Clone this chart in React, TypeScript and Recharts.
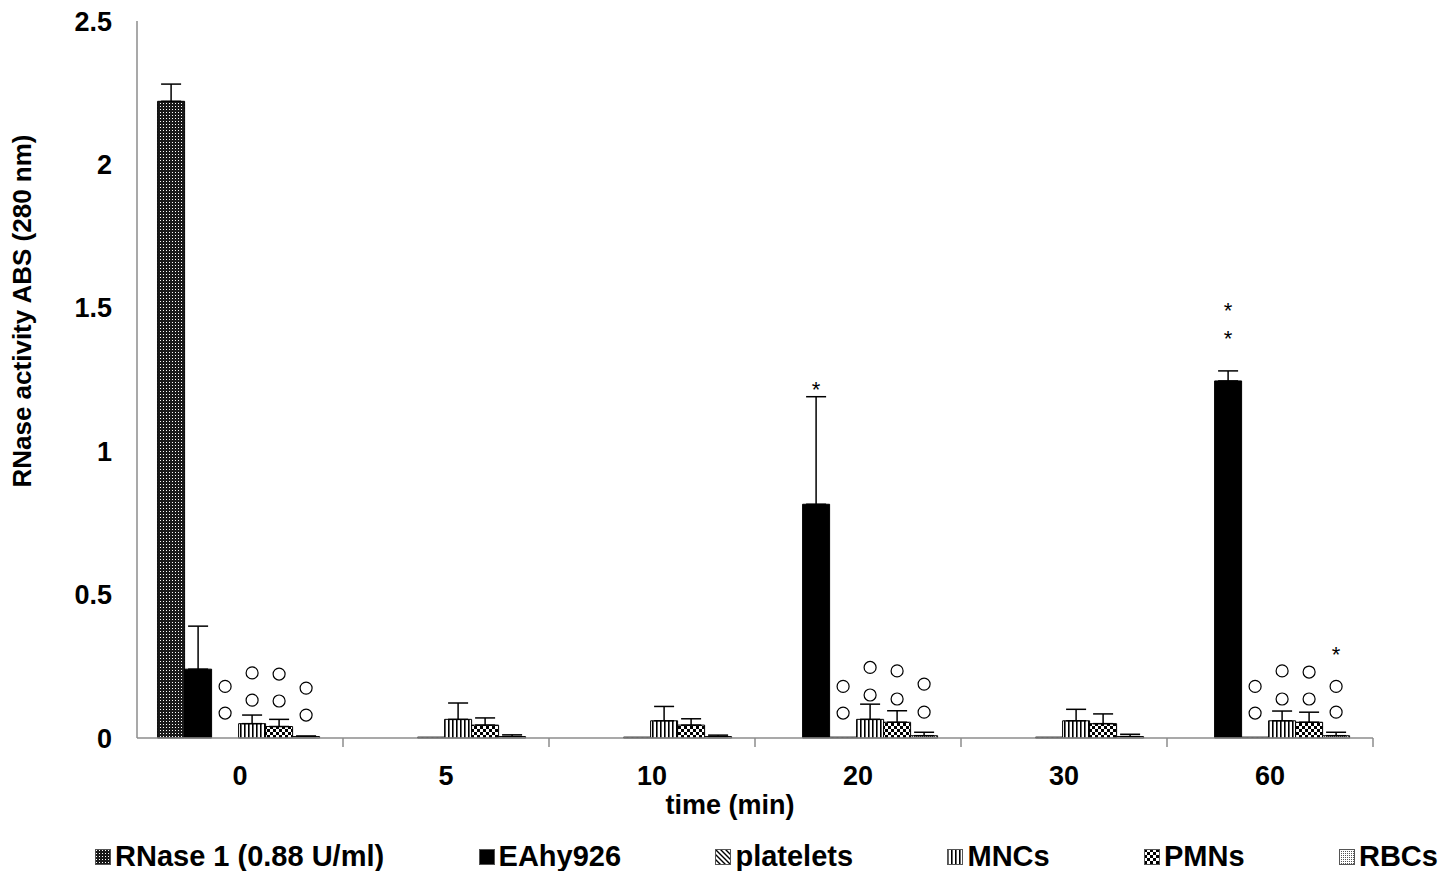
import React from 'react'
import { BarChart, Bar, XAxis, YAxis, ErrorBar, LabelList } from 'recharts'

const times = ['0', '5', '10', '20', '30', '60']

const rnase = [2.22, 0, 0, 0, 0, 0]
const rnaseErr = [0.06, null, null, null, null, null]
const eahy = [0.24, 0, 0, 0.815, 0, 1.245]
const eahyErr = [0.15, null, null, 0.375, null, 0.035]
const platelets = [0, 0.003, 0.003, 0.003, 0.003, 0.003]
const mncs = [0.05, 0.065, 0.06, 0.065, 0.06, 0.06]
const mncsErr = [0.03, 0.057, 0.05, 0.053, 0.04, 0.034]
const pmns = [0.04, 0.045, 0.045, 0.055, 0.05, 0.055]
const pmnsErr = [0.025, 0.025, 0.022, 0.04, 0.034, 0.035]
const rbcs = [0.005, 0.005, 0.005, 0.008, 0.005, 0.008]
const rbcsErr = [0.002, 0.006, 0.005, 0.012, 0.008, 0.012]

// significance marks, in axis units
const plateletsCircles = [[0.18, 0.087], [], [], [0.18, 0.087], [], [0.18, 0.087]]
const mncsCircles = [[0.227, 0.132], [], [], [0.246, 0.15], [], [0.234, 0.136]]
const pmnsCircles = [[0.223, 0.129], [], [], [0.234, 0.136], [], [0.23, 0.136]]
const rbcsCircles = [[0.174, 0.08], [], [], [0.188, 0.09], [], [0.18, 0.09]]
const eahyStars = [[], [], [], [1.225], [], [1.5, 1.403]]
const rbcsStars = [[], [], [], [], [], [0.3]]

const yTicks = [0, 0.5, 1, 1.5, 2, 2.5]

const W = 1455
const H = 830
const M = { top: 21, right: 82, left: 0, bottom: 0 }
const Y_W = 137
const X_H = 92
const PLOT_H = H - M.top - M.bottom - X_H
const PLOT_W = W - M.left - M.right - Y_W
const PX = PLOT_H / 2.5
const FONT = '"Liberation Sans", Arial, sans-serif'

const data = times.map((t, i) => ({
  time: t,
  idx: i,
  rnase: rnase[i],
  rnaseErr: rnaseErr[i],
  eahy: eahy[i],
  eahyErr: eahyErr[i],
  platelets: platelets[i],
  mncs: mncs[i],
  mncsErr: mncsErr[i],
  pmns: pmns[i],
  pmnsErr: pmnsErr[i],
  rbcs: rbcs[i],
  rbcsErr: rbcsErr[i],
}))

// bar slots relative to the MNCs bar, which is never empty
const annotations = [
  { slot: -2, circles: [[], [], [], [], [], []], stars: eahyStars },
  { slot: -1, circles: plateletsCircles, stars: [[], [], [], [], [], []] },
  { slot: 0, circles: mncsCircles, stars: [[], [], [], [], [], []] },
  { slot: 1, circles: pmnsCircles, stars: [[], [], [], [], [], []] },
  { slot: 2, circles: rbcsCircles, stars: rbcsStars },
]

const err = (key: string) => (d: any) => (d[key] == null ? null : [0, d[key]])

function Patterns({ p }: { p: string }) {
  return (
    <defs>
      <pattern id={`${p}rnase`} width="3" height="3" patternUnits="userSpaceOnUse">
        <rect width="3" height="3" fill="#1a1a1a" />
        <rect x="1" y="1" width="1" height="1" fill="#fff" />
      </pattern>
      <pattern id={`${p}platelets`} width="5" height="5" patternUnits="userSpaceOnUse">
        <rect width="5" height="5" fill="#fff" />
        <path d="M-1,-1 L6,6 M-1,4 L1,6 M4,-1 L6,1" stroke="#000" strokeWidth="1.4" />
      </pattern>
      <pattern id={`${p}mncs`} width="4" height="4" patternUnits="userSpaceOnUse">
        <rect width="4" height="4" fill="#fff" />
        <rect width="1.6" height="4" fill="#000" />
      </pattern>
      <pattern id={`${p}pmns`} width="6" height="6" patternUnits="userSpaceOnUse">
        <rect width="6" height="6" fill="#fff" />
        <rect width="3" height="3" fill="#000" />
        <rect x="3" y="3" width="3" height="3" fill="#000" />
      </pattern>
      <pattern id={`${p}rbcs`} width="2" height="2" patternUnits="userSpaceOnUse">
        <rect width="2" height="2" fill="#fff" />
        <rect width="1" height="1" fill="#555" />
      </pattern>
    </defs>
  )
}

const Marks = (props: any) => {
  const { x, y, width, height, value } = props
  const i = Number(value)
  const base = Number(y) + Number(height)
  const w = Number(width)
  const mid = Number(x) + w / 2
  return (
    <g>
      {annotations.map((a, n) => {
        const cx = mid + a.slot * w
        return (
          <g key={n}>
            {(a.circles[i] || []).map((v, k) => (
              <circle key={`c${k}`} cx={cx} cy={base - v * PX} r={6} fill="#fff" stroke="#000" strokeWidth={1.2} />
            ))}
            {(a.stars[i] || []).map((v, k) => (
              <text key={`s${k}`} x={cx} y={base - v * PX + 10} textAnchor="middle" fontSize={22} fontFamily={FONT} fill="#000">
                *
              </text>
            ))}
          </g>
        )
      })}
    </g>
  )
}

const XTick = (props: any) => {
  const { x, y, payload } = props
  const band = PLOT_W / times.length
  return (
    <g>
      <line x1={x + band / 2} x2={x + band / 2} y1={y} y2={y + 9} stroke="#8c8c8c" strokeWidth={1.5} />
      <text x={x} y={y + 47} textAnchor="middle" fontSize={27} fontWeight="bold" fontFamily={FONT} fill="#000">
        {payload.value}
      </text>
    </g>
  )
}

const legendItems = [
  { key: 'rnase', name: 'RNase 1 (0.88 U/ml)' },
  { key: 'eahy', name: 'EAhy926' },
  { key: 'platelets', name: 'platelets' },
  { key: 'mncs', name: 'MNCs' },
  { key: 'pmns', name: 'PMNs' },
  { key: 'rbcs', name: 'RBCs' },
]

export default function App() {
  return (
    <div style={{ position: 'absolute', left: 0, top: 0, width: W, height: 871, background: '#fff', fontFamily: FONT }}>
      <BarChart width={W} height={H} data={data} margin={M} barCategoryGap="10%" barGap={0}>
        <Patterns p="c-" />
        <XAxis
          dataKey="time"
          height={X_H}
          axisLine={{ stroke: '#8c8c8c', strokeWidth: 1.5 }}
          tickLine={false}
          tickSize={0}
          tickMargin={0}
          tick={<XTick />}
          interval={0}
          label={{
            content: () => (
              <text x={730} y={814} textAnchor="middle" fontSize={27} fontWeight="bold" fontFamily={FONT} fill="#000">
                time (min)
              </text>
            ),
          }}
        />
        <YAxis
          width={Y_W}
          domain={[0, 2.5]}
          ticks={yTicks}
          axisLine={{ stroke: '#8c8c8c', strokeWidth: 1.5 }}
          tickLine={false}
          tickMargin={19}
          tick={{ fontSize: 27, fontWeight: 'bold', fill: '#000', fontFamily: FONT }}
          label={{
            content: () => (
              <text transform="translate(31,311) rotate(-90)" textAnchor="middle" fontSize={26} fontWeight="bold" fontFamily={FONT} fill="#000">
                RNase activity ABS (280 nm)
              </text>
            ),
          }}
        />
        <Bar dataKey="rnase" fill="url(#c-rnase)" stroke="#000" strokeWidth={1} isAnimationActive={false}>
          <ErrorBar dataKey={err('rnaseErr')} width={10} stroke="#000" strokeWidth={1.5} direction="y" isAnimationActive={false} />
        </Bar>
        <Bar dataKey="eahy" fill="#000" stroke="#000" strokeWidth={1} isAnimationActive={false}>
          <ErrorBar dataKey={err('eahyErr')} width={10} stroke="#000" strokeWidth={1.5} direction="y" isAnimationActive={false} />
        </Bar>
        <Bar dataKey="platelets" fill="url(#c-platelets)" stroke="#000" strokeWidth={1} isAnimationActive={false} />
        <Bar dataKey="mncs" fill="url(#c-mncs)" stroke="#000" strokeWidth={1} isAnimationActive={false}>
          <ErrorBar dataKey={err('mncsErr')} width={10} stroke="#000" strokeWidth={1.5} direction="y" isAnimationActive={false} />
          <LabelList dataKey="idx" content={<Marks />} />
        </Bar>
        <Bar dataKey="pmns" fill="url(#c-pmns)" stroke="#000" strokeWidth={1} isAnimationActive={false}>
          <ErrorBar dataKey={err('pmnsErr')} width={10} stroke="#000" strokeWidth={1.5} direction="y" isAnimationActive={false} />
        </Bar>
        <Bar dataKey="rbcs" fill="url(#c-rbcs)" stroke="#000" strokeWidth={1} isAnimationActive={false}>
          <ErrorBar dataKey={err('rbcsErr')} width={10} stroke="#000" strokeWidth={1.5} direction="y" isAnimationActive={false} />
        </Bar>
      </BarChart>
      <div
        style={{
          position: 'absolute',
          top: H + 6,
          left: 95,
          right: 17,
          height: 41,
          display: 'flex',
          justifyContent: 'space-between',
          alignItems: 'center',
        }}
      >
        {legendItems.map((it) => (
          <div key={it.key} style={{ display: 'flex', alignItems: 'center' }}>
            <svg width={16} height={16} style={{ marginRight: 4 }}>
              <Patterns p="l-" />
              <rect x={0.5} y={0.5} width={15} height={15} fill={it.key === 'eahy' ? '#000' : `url(#l-${it.key})`} stroke="#555" strokeWidth={1} />
            </svg>
            <span style={{ fontSize: 29, fontWeight: 'bold', color: '#000', lineHeight: 1 }}>{it.name}</span>
          </div>
        ))}
      </div>
    </div>
  )
}
